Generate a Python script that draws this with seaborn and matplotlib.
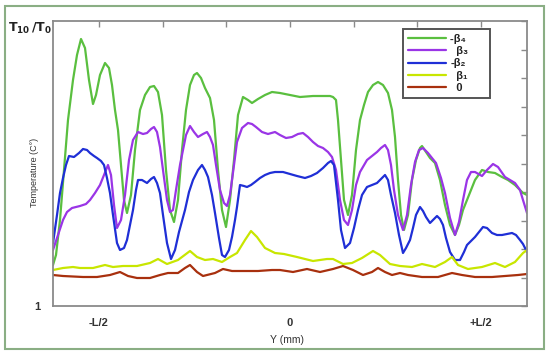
import numpy as np
import pandas as pd
import matplotlib
matplotlib.use("Agg")
import matplotlib.pyplot as plt
from matplotlib.patches import Rectangle
import seaborn as sns

# Y position in mm (L taken as 382 mm, so -L/2 = -191 and +L/2 = +191)
half_L = 191

# -beta4 (green)
x_b4 = [-237, -234, -230, -226, -222, -217, -213, -209, -205, -201,
        -197, -194, -190, -185, -181, -178, -175, -172, -169, -166,
        -163, -159, -155, -150, -145, -140, -136, -132, -128, -124,
        -120, -116, -112, -108, -104, -100, -96, -93, -89, -85,
        -80, -76, -72, -68, -64, -60, -56, -52, -47, -42,
        -38, -32, -25, -18, -10, 0, 10, 23, 35, 40,
        43, 46, 48, 51, 54, 58, 62, 66, 70, 74,
        78, 83, 88, 93, 98, 102, 105, 108, 111, 114,
        118, 122, 126, 130, 132, 136, 140, 145, 150, 155,
        160, 165, 169, 173, 177, 181, 185, 192, 198, 205,
        212, 218, 225, 233, 237]
y_b4 = [1.41, 1.51, 1.86, 2.36, 2.86, 3.26, 3.51, 3.67, 3.58, 3.26,
        3.02, 3.11, 3.31, 3.43, 3.38, 3.21, 2.96, 2.76, 2.41, 2.06,
        1.93, 2.11, 2.56, 2.96, 3.11, 3.19, 3.20, 3.14, 2.91, 2.36,
        1.96, 1.84, 2.06, 2.56, 2.96, 3.21, 3.31, 3.33, 3.28, 3.18,
        3.08, 2.86, 2.36, 1.96, 1.79, 2.06, 2.46, 2.91, 3.09, 3.06,
        3.03, 3.07, 3.11, 3.14, 3.13, 3.11, 3.09, 3.10, 3.10, 3.10,
        3.09, 3.06, 2.86, 2.46, 2.06, 1.91, 2.11, 2.56, 2.86, 3.01,
        3.14, 3.21, 3.24, 3.21, 3.13, 2.96, 2.69, 2.26, 1.91, 1.76,
        1.91, 2.26, 2.46, 2.58, 2.60, 2.54, 2.48, 2.43, 2.26, 2.01,
        1.81, 1.71, 1.81, 1.96, 2.06, 2.16, 2.26, 2.36, 2.34, 2.33,
        2.29, 2.26, 2.21, 2.13, 2.11]

# beta3 (purple)
x_b3 = [-237, -232, -227, -223, -218, -210, -204, -200, -195, -190,
        -186, -182, -179, -176, -173, -169, -165, -161, -157, -152,
        -147, -143, -139, -136, -133, -130, -127, -123, -120, -117,
        -114, -110, -107, -104, -100, -96, -92, -87, -83, -80,
        -77, -74, -70, -66, -63, -60, -56, -53, -48, -42,
        -38, -34, -28, -22, -15, -10, -4, 2, 8, 13,
        18, 23, 28, 33, 38, 42, 46, 50, 54, 58,
        62, 66, 70, 77, 82, 87, 91, 95, 98, 101,
        104, 108, 113, 117, 121, 125, 129, 133, 138, 142,
        146, 151, 155, 160, 165, 169, 173, 177, 181, 185,
        192, 197, 203, 208, 215, 220, 225, 230, 233, 237]
y_b3 = [1.56, 1.71, 1.86, 1.94, 1.98, 2.00, 2.02, 2.06, 2.13, 2.21,
        2.31, 2.41, 2.31, 2.01, 1.78, 1.86, 2.11, 2.46, 2.66, 2.74,
        2.72, 2.73, 2.77, 2.79, 2.74, 2.59, 2.36, 2.06, 1.94, 1.96,
        2.16, 2.41, 2.56, 2.71, 2.80, 2.74, 2.69, 2.72, 2.74, 2.69,
        2.61, 2.41, 2.16, 2.03, 2.00, 2.11, 2.41, 2.64, 2.78, 2.83,
        2.82, 2.79, 2.74, 2.72, 2.74, 2.71, 2.68, 2.69, 2.72, 2.73,
        2.69, 2.64, 2.60, 2.58, 2.54, 2.49, 2.36, 2.06, 1.86, 1.81,
        1.96, 2.21, 2.34, 2.46, 2.50, 2.54, 2.58, 2.61, 2.56, 2.41,
        2.16, 1.91, 1.76, 1.91, 2.21, 2.44, 2.56, 2.58, 2.53, 2.48,
        2.43, 2.28, 2.13, 1.88, 1.71, 1.84, 2.06, 2.26, 2.34, 2.34,
        2.30, 2.36, 2.42, 2.39, 2.29, 2.26, 2.23, 2.16, 2.06, 1.93]

# -beta2 (blue)
x_b2 = [-237, -233, -230, -227, -224, -221, -216, -211, -207, -203,
        -200, -196, -193, -189, -186, -183, -180, -177, -173, -170,
        -166, -163, -160, -157, -154, -152, -148, -143, -139, -136,
        -133, -130, -127, -123, -119, -115, -111, -105, -101, -97,
        -92, -88, -85, -82, -78, -75, -71, -68, -65, -61,
        -58, -55, -53, -50, -46, -43, -39, -35, -30, -25,
        -20, -15, -7, 0, 7, 15, 21, 27, 33, 38,
        41, 44, 48, 51, 55, 60, 64, 68, 72, 77,
        82, 87, 91, 95, 98, 101, 105, 109, 113, 116,
        120, 123, 126, 130, 133, 136, 140, 144, 147, 150,
        153, 156, 160, 165, 170, 174, 177, 181, 185, 189,
        193, 197, 202, 207, 212, 217, 222, 226, 230, 233,
        237]
y_b2 = [1.63, 1.91, 2.13, 2.28, 2.41, 2.50, 2.49, 2.53, 2.57, 2.56,
        2.53, 2.50, 2.48, 2.45, 2.41, 2.28, 2.13, 1.91, 1.63, 1.56,
        1.58, 1.66, 1.81, 1.96, 2.16, 2.26, 2.26, 2.23, 2.27, 2.29,
        2.23, 2.13, 1.91, 1.63, 1.47, 1.56, 1.74, 1.96, 2.14, 2.26,
        2.36, 2.41, 2.36, 2.29, 2.11, 1.93, 1.68, 1.51, 1.49, 1.56,
        1.69, 1.86, 1.99, 2.21, 2.20, 2.19, 2.21, 2.24, 2.28, 2.31,
        2.33, 2.34, 2.34, 2.32, 2.30, 2.28, 2.30, 2.33, 2.38, 2.43,
        2.45, 2.41, 2.06, 1.76, 1.58, 1.63, 1.78, 1.96, 2.11, 2.19,
        2.21, 2.23, 2.27, 2.31, 2.26, 2.11, 1.93, 1.71, 1.53, 1.58,
        1.66, 1.78, 1.91, 1.99, 1.95, 1.89, 1.83, 1.87, 1.90, 1.87,
        1.81, 1.68, 1.54, 1.46, 1.46, 1.54, 1.61, 1.65, 1.69, 1.74,
        1.79, 1.78, 1.73, 1.71, 1.71, 1.72, 1.73, 1.71, 1.66, 1.62,
        1.54]

# beta1 (yellow)
x_b1 = [-237, -227, -217, -210, -197, -185, -177, -167, -153, -140,
        -132, -123, -112, -100, -93, -85, -77, -68, -60, -53,
        -45, -39, -33, -25, -15, -6, 7, 23, 37, 43,
        53, 62, 72, 83, 90, 100, 110, 122, 132, 145,
        155, 162, 168, 178, 192, 205, 215, 225, 233, 237]
y_b1 = [1.36, 1.38, 1.39, 1.38, 1.38, 1.41, 1.39, 1.40, 1.40, 1.43,
        1.47, 1.42, 1.46, 1.55, 1.49, 1.46, 1.47, 1.44, 1.49, 1.53,
        1.66, 1.75, 1.69, 1.58, 1.53, 1.52, 1.49, 1.45, 1.47, 1.47,
        1.42, 1.43, 1.48, 1.55, 1.51, 1.42, 1.40, 1.39, 1.42, 1.39,
        1.44, 1.49, 1.41, 1.37, 1.39, 1.43, 1.39, 1.44, 1.53, 1.56]

# 0 (dark red)
x_0 = [-237, -227, -207, -193, -180, -170, -162, -153, -140, -130,
       -122, -112, -105, -100, -93, -87, -75, -67, -58, -45,
       -32, -18, -10, 3, 17, 30, 43, 53, 63, 73,
       82, 88, 95, 102, 110, 118, 132, 148, 162, 172,
       185, 202, 215, 228, 237]
y_0 = [1.31, 1.30, 1.29, 1.29, 1.31, 1.34, 1.30, 1.28, 1.28, 1.31,
       1.33, 1.33, 1.38, 1.41, 1.34, 1.30, 1.33, 1.37, 1.35, 1.35,
       1.35, 1.36, 1.36, 1.34, 1.37, 1.34, 1.37, 1.40, 1.36, 1.31,
       1.34, 1.38, 1.34, 1.31, 1.33, 1.31, 1.29, 1.29, 1.33, 1.31,
       1.29, 1.29, 1.30, 1.31, 1.32]

series = [
    ("-β₄      ", x_b4, y_b4, "#5abf3f"),
    ("  β₃", x_b3, y_b3, "#9a35e6"),
    ("-β₂", x_b2, y_b2, "#1f2fd6"),
    ("  β₁", x_b1, y_b1, "#c8e600"),
    ("  0", x_0, y_0, "#a8300e"),
]

sns.set_style("white")
plt.rcParams['font.family'] = ['Liberation Sans', 'DejaVu Sans']

fig = plt.figure(figsize=(5.5, 3.55), dpi=100)
ax = fig.add_axes([53 / 550, 49 / 355, 474 / 550, 285 / 355])

for label, xs, ys, color in series:
    df = pd.DataFrame({"Y (mm)": xs, "T": ys})
    sns.lineplot(data=df, x="Y (mm)", y="T", color=color, linewidth=1.6,
                 sort=False, estimator=None, label=label, ax=ax)

grey = "#8a8a8a"
ax.set_xlim(-237, 237)
ax.set_ylim(1, 3.85)
ax.set_xticks(np.arange(-3, 4) * half_L / 3)
ax.set_xticklabels(["-L/2", "", "", "0", "", "", "+L/2"])
ax.set_yticks(1 + np.arange(11) * 0.285)
ax.set_yticklabels(["1"] + [""] * 10)
ax.tick_params(direction="in", top=True, right=True, length=4, width=1,
               color=grey, labelsize=8, labelcolor="#333333", pad=9)
for lab in ax.get_xticklabels() + ax.get_yticklabels():
    lab.set_fontweight("bold")
ax.set_xlabel("")
ax.set_ylabel("")
for sp in ax.spines.values():
    sp.set_color(grey)
    sp.set_linewidth(1.3)

fig.text(287 / 550, 1 - 340 / 355, "Y (mm)", ha="center", va="center",
         fontsize=7.5, color="#333333")
fig.text(35 / 550, 1 - 172 / 355, "Temperature (C°)", rotation=90,
         ha="center", va="center", fontsize=6.5, color="#333333")
fig.text(30 / 550, 1 - 28 / 355, r"$\mathbf{T_{10}\,/T_{0}}$", ha="center",
         va="center", fontsize=9, color="#222222")

leg = ax.legend(loc="upper left", bbox_to_anchor=(403 / 550, 1 - 29 / 355),
                bbox_transform=fig.transFigure, fancybox=False, fontsize=8,
                handlelength=3.4, handletextpad=0.4, labelspacing=0.2,
                borderpad=0.45, borderaxespad=0, framealpha=1)
leg.get_frame().set_edgecolor("#555555")
leg.get_frame().set_linewidth(1.4)
for t in leg.get_texts():
    t.set_fontweight("bold")
    t.set_color("#222222")

fig.patches.append(Rectangle((5 / 550, 6 / 355), 539 / 550, 343 / 355,
                             transform=fig.transFigure, fill=False,
                             edgecolor="#8aae84", linewidth=1.5))

fig.savefig("out.png", dpi=100)
